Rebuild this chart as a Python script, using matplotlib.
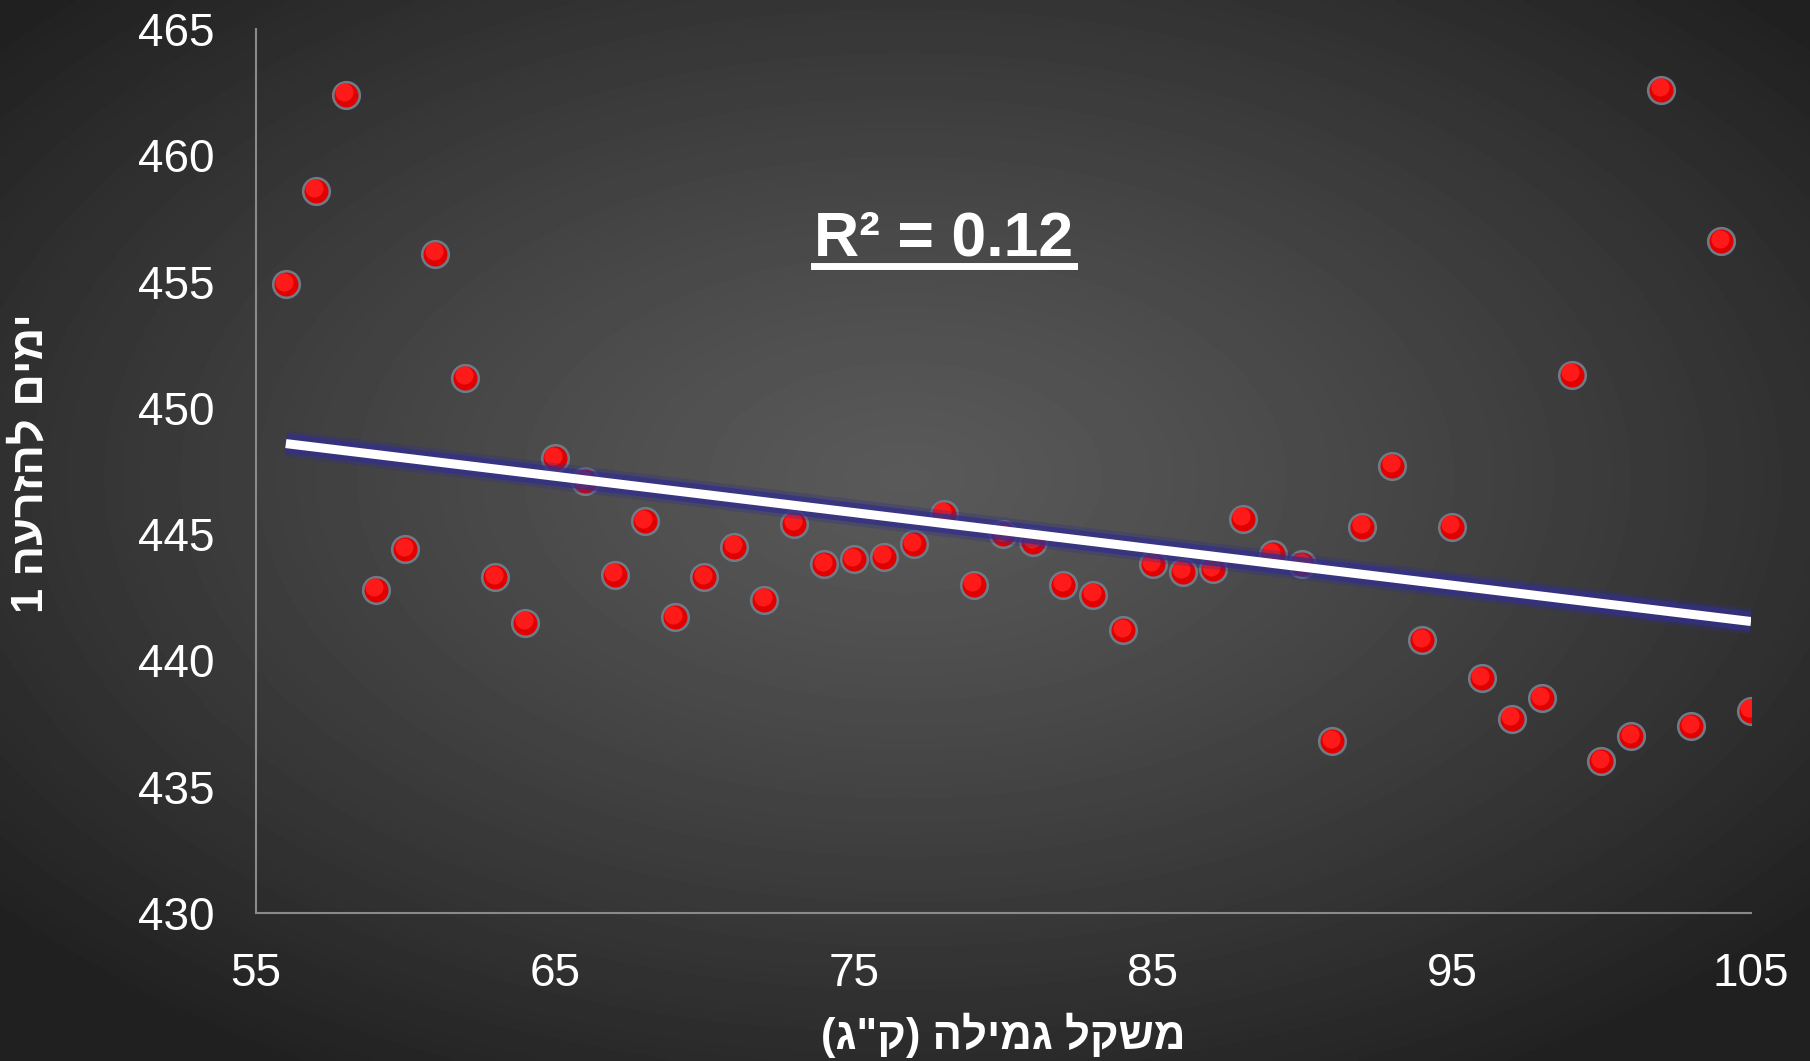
import numpy as np
import matplotlib.pyplot as plt
import matplotlib.patheffects as pe

plt.rcParams['font.family'] = ['Liberation Sans', 'DejaVu Sans']

weight = [56, 57, 58, 59, 60, 61, 62, 63, 64, 65,
          66, 67, 68, 69, 70, 71, 72, 73, 74, 75,
          76, 77, 78, 79, 80, 81, 82, 83, 84, 85,
          86, 87, 88, 89, 90, 91, 92, 93, 94, 95,
          96, 97, 98, 99, 100, 101, 102, 103, 104, 105]
days = [454.9, 458.6, 462.4, 442.8, 444.4, 456.1, 451.2, 443.3, 441.5, 448.0,
        447.1, 443.4, 445.5, 441.7, 443.3, 444.5, 442.4, 445.4, 443.8, 444.0,
        444.1, 444.6, 445.8, 443.0, 445.0, 444.7, 443.0, 442.6, 441.2, 443.8,
        443.5, 443.6, 445.6, 444.2, 443.8, 436.8, 445.3, 447.7, 440.8, 445.3,
        439.3, 437.7, 438.5, 451.3, 436.0, 437.0, 462.6, 437.4, 456.6, 438.0]

x_ticks = [55, 65, 75, 85, 95, 105]
y_ticks = [430, 435, 440, 445, 450, 455, 460, 465]
x_title = 'משקל גמילה (ק"ג)'
y_title = 'ימים להזרעה 1'
r2_text = 'R² = 0.12'


def visual(s):
    # matplotlib has no bidi support: flip the string, swap brackets
    return s[::-1].translate(str.maketrans('()', ')('))


fig = plt.figure(figsize=(18.10, 10.61), dpi=100)

# dark radial gradient background
bg = fig.add_axes([0, 0, 1, 1], zorder=-10)
gx, gy = np.meshgrid(np.linspace(0, 1, 400), np.linspace(0, 1, 240))
r = np.sqrt(((gx - 0.5) / 0.65) ** 2 + ((gy - 0.55) / 0.65) ** 2)
shade = 0.35 - 0.22 * np.clip(r, 0, 1) ** 1.2
bg.imshow(shade, cmap='gray', vmin=0, vmax=1, extent=[0, 1, 0, 1],
          origin='lower', aspect='auto', interpolation='bicubic')
bg.axis('off')

ax = fig.add_axes([0.1414, 0.1395, 0.8260, 0.8332])
ax.set_facecolor('none')

ax.scatter(weight, days, s=400, color='#6f7c88', zorder=4)
ax.scatter(weight, days, s=265, color='#e00000', zorder=5)
ax.scatter(np.array(weight) - 0.05, np.array(days) + 0.1, s=170,
           color='#ff1a1a', zorder=6, linewidths=0)

# trend line with blue glow, drawn over the markers
k, b0 = np.polyfit(weight, days, 1)
xs = np.array([weight[0], weight[-1]])
ax.plot(xs, k * xs + b0, color='white', lw=6.5, solid_capstyle='butt', zorder=7,
        path_effects=[pe.Stroke(linewidth=19, foreground='#33308a', alpha=0.3),
                      pe.Stroke(linewidth=14, foreground='#33308a', alpha=0.75),
                      pe.Normal()])

ax.set_xlim(55, 105)
ax.set_ylim(430, 465)
ax.set_xticks(x_ticks)
ax.set_yticks(y_ticks)
ax.tick_params(length=0, labelsize=33, labelcolor='white')
ax.tick_params(axis='y', pad=30)
ax.tick_params(axis='x', pad=28)
for side in ['top', 'right']:
    ax.spines[side].set_visible(False)
for side in ['left', 'bottom']:
    ax.spines[side].set_color('#8a8a8a')
    ax.spines[side].set_linewidth(1.5)

ax.set_xlabel(visual(x_title), fontsize=31.5, fontweight='bold', color='white')
ax.xaxis.set_label_coords(0.5, -0.138)
ax.xaxis.label.set_va('center')
ax.set_ylabel(visual(y_title), fontsize=32.5, fontweight='bold', color='white')
ax.yaxis.set_label_coords(-0.1505, 0.509)
ax.yaxis.label.set_va('center')

t = fig.text(944 / 1810, 1 - 255 / 1061, r2_text, fontsize=45, fontweight='bold',
             color='white', ha='center', va='baseline')
fig.canvas.draw()
bb = t.get_window_extent().transformed(fig.transFigure.inverted())
uy = 1 - 266 / 1061
fig.add_artist(plt.Line2D([bb.x0, bb.x1], [uy, uy], color='white', lw=5,
                          transform=fig.transFigure))

fig.savefig('out.png', dpi=100)
